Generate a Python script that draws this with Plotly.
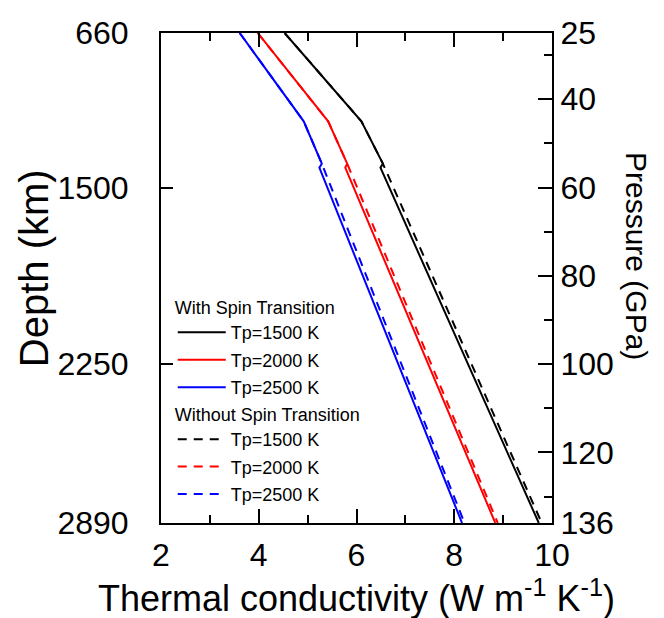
import plotly.graph_objects as go

# ---- data (pressure in GPa on the vertical axis, conductivity on x) ----
pressure_with = [25, 45, 54.6, 55.5, 136]
k_with_1500 = [4.53, 6.10, 6.54, 6.49, 9.73]
k_with_2000 = [3.98, 5.42, 5.81, 5.77, 8.84]
k_with_2500 = [3.61, 4.92, 5.29, 5.24, 8.16]

pressure_without = [25, 45, 54.6, 136]
k_without_1500 = [4.53, 6.10, 6.54, 9.79]
k_without_2000 = [3.98, 5.42, 5.81, 8.89]
k_without_2500 = [3.61, 4.92, 5.29, 8.21]

series_labels = ["Tp=1500 K", "Tp=2000 K", "Tp=2500 K"]
series_colors = ["#000000", "#ff0000", "#0000ff"]

depth_tick_pressure = [25, 60, 100, 136]
depth_tick_labels = ["660", "1500", "2250", "2890"]
pressure_ticks = [25, 40, 60, 80, 100, 120, 136]
pressure_minor = [30, 50, 70, 90, 110, 130]
x_ticks = [2, 4, 6, 8, 10]

FONT = "Arial, Liberation Sans, sans-serif"

fig = go.Figure()
with_sets = [k_with_1500, k_with_2000, k_with_2500]
without_sets = [k_without_1500, k_without_2000, k_without_2500]
for i, (ks, lab, col) in enumerate(zip(with_sets, series_labels, series_colors)):
    fig.add_trace(go.Scatter(x=ks, y=pressure_with, mode="lines", name=lab,
                             line=dict(color=col, width=2), legend="legend",
                             legendgroup="w%d" % i, yaxis="y"))
for i, (ks, lab, col) in enumerate(zip(without_sets, series_labels, series_colors)):
    fig.add_trace(go.Scatter(x=ks, y=pressure_without, mode="lines", name=lab,
                             line=dict(color=col, width=2, dash="9px,7px"),
                             legend="legend2", legendgroup="wo%d" % i, yaxis="y2"))

axis_common = dict(showline=True, linecolor="black", linewidth=2, ticks="inside",
                   tickcolor="black", tickwidth=2, showgrid=False, zeroline=False,
                   automargin=False,
                   tickfont=dict(family=FONT, size=32, color="black"))

fig.update_layout(
    width=664, height=618,
    margin=dict(l=153, r=120, t=25, b=103),
    paper_bgcolor="white", plot_bgcolor="white",
    font=dict(family=FONT, color="black"),
    xaxis=dict(range=[2, 10], tickvals=x_ticks, ticklen=14, mirror="ticks",
               ticklabelstandoff=3,
               minor=dict(dtick=1, tick0=2, ticklen=8, ticks="inside", tickwidth=2, tickcolor="black"),
               **axis_common),
    yaxis=dict(range=[136, 25], tickvals=depth_tick_pressure, ticktext=depth_tick_labels,
               ticklen=12, ticklabelstandoff=24,
               **axis_common),
    yaxis2=dict(range=[136, 25], overlaying="y", side="right", tickvals=pressure_ticks,
                ticklen=14, ticklabelstandoff=0,
                minor=dict(tickvals=pressure_minor, ticklen=8, ticks="inside", tickwidth=2, tickcolor="black"),
                **axis_common),
    legend=dict(title=dict(text="With Spin Transition", font=dict(family=FONT, size=18)),
                font=dict(family=FONT, size=18), x=0.03, y=0.474, xanchor="left", yanchor="top",
                bgcolor="rgba(0,0,0,0)", tracegroupgap=1, itemwidth=48),
    legend2=dict(title=dict(text="Without Spin Transition", font=dict(family=FONT, size=18)),
                 font=dict(family=FONT, size=18), x=0.03, y=0.256, xanchor="left", yanchor="top",
                 bgcolor="rgba(0,0,0,0)", tracegroupgap=1, itemwidth=48),
    annotations=[
        dict(text="Depth (km)", textangle=-90, xref="paper", yref="paper",
             x=0.0, xshift=-127, xanchor="center", y=0.52, yanchor="middle", showarrow=False,
             font=dict(family=FONT, size=40, color="black")),
        dict(text="Pressure (GPa)", textangle=90, xref="paper", yref="paper",
             x=1.0, xshift=84, xanchor="center", y=0.545, yanchor="middle", showarrow=False,
             font=dict(family=FONT, size=30, color="black")),
        dict(text="Thermal conductivity (W m<sup>-1</sup> K<sup>-1</sup>)", xref="paper", yref="paper",
             x=0.5, xanchor="center", y=0.0, yanchor="middle", yshift=-73, showarrow=False,
             font=dict(family=FONT, size=36, color="black")),
    ],
)

fig.write_html("out.html")
